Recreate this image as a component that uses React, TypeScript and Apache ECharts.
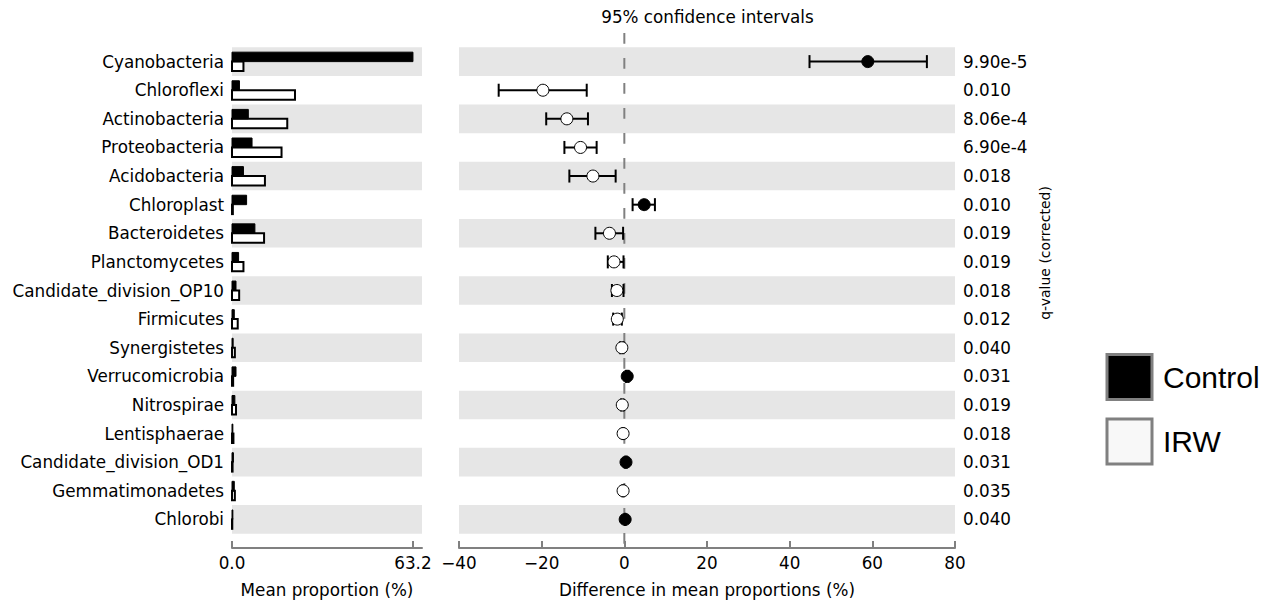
import React, { useEffect, useRef } from 'react';
import * as echarts from 'echarts';

const categories = [
  'Cyanobacteria', 'Chloroflexi', 'Actinobacteria', 'Proteobacteria', 'Acidobacteria',
  'Chloroplast', 'Bacteroidetes', 'Planctomycetes', 'Candidate_division_OP10', 'Firmicutes',
  'Synergistetes', 'Verrucomicrobia', 'Nitrospirae', 'Lentisphaerae', 'Candidate_division_OD1',
  'Gemmatimonadetes', 'Chlorobi',
];
const controlMean = [63.2, 2.6, 5.7, 7.0, 4.0, 5.1, 8.0, 2.3, 1.4, 0.8, 0.4, 1.4, 1.0, 0.3, 0.5, 0.8, 0.3];
const irwMean = [4.0, 22.0, 19.3, 17.3, 11.5, 0.3, 11.2, 4.0, 2.5, 2.0, 1.0, 0.4, 1.4, 0.5, 0.2, 1.0, 0.1];
const diffMean = [58.9, -19.7, -13.9, -10.6, -7.6, 4.8, -3.6, -2.5, -1.8, -1.7, -0.6, 0.7, -0.5, -0.3, 0.4, -0.3, 0.2];
const ciLow = [44.8, -30.4, -18.9, -14.5, -13.3, 2.0, -7.0, -4.0, -3.0, -2.7, -1.0, 0.4, -0.8, -0.5, 0.2, -0.5, 0.1];
const ciHigh = [73.2, -9.1, -8.8, -6.7, -2.1, 7.4, -0.3, -0.2, -0.2, -0.6, -0.2, 1.0, -0.2, -0.1, 0.6, -0.1, 0.3];
const qValues = ['9.90e-5', '0.010', '8.06e-4', '6.90e-4', '0.018', '0.010', '0.019', '0.019', '0.018', '0.012', '0.040', '0.031', '0.019', '0.018', '0.031', '0.035', '0.040'];
const leftTicks = [0, 63.2];
const leftMax = 66.36;
const diffMin = -40;
const diffMax = 80;
const diffStep = 20;
const groups = ['Control', 'IRW'];

const FONT = 'DejaVu Sans';
const FS = 16.8;
const AXIS_GREY = '#808080';
const BAND = '#e6e6e6';

function fmtMinus(v: number): string {
  return v < 0 ? '\u2212' + Math.abs(v) : String(v);
}

export default function App() {
  const ref = useRef<HTMLDivElement>(null);
  useEffect(() => {
    if (!ref.current) return;
    const chart = echarts.init(ref.current, undefined, { renderer: 'svg' });
    const rows = categories.map((_, i) => i);
    const bandRows = rows.filter((i) => i % 2 === 0);

    const bandRender = (params: any, api: any) => {
      const row = api.value(0);
      const cs = params.coordSys;
      const top = api.coord([0, row - 0.5])[1];
      const h = api.size([0, 1])[1];
      return {
        type: 'rect',
        shape: { x: cs.x, y: top, width: cs.width, height: h },
        style: { fill: BAND },
        silent: true,
      };
    };

    const barRender = (upper: boolean) => (params: any, api: any) => {
      const row = api.value(0);
      const v = api.value(1);
      const s = api.coord([0, row]);
      const e = api.coord([v, row]);
      const h = api.size([0, 0.33])[1];
      return {
        type: 'rect',
        shape: { x: s[0], y: upper ? s[1] - h : s[1], width: e[0] - s[0], height: h },
        style: upper
          ? { fill: '#000', stroke: '#000', lineWidth: 1 }
          : { fill: '#fff', stroke: '#000', lineWidth: 2 },
      };
    };

    const errRender = (params: any, api: any) => {
      const row = api.value(0);
      const p1 = api.coord([api.value(1), row]);
      const p2 = api.coord([api.value(2), row]);
      const cap = 6.5;
      const st = { stroke: '#000', lineWidth: 2 };
      return {
        type: 'group',
        children: [
          { type: 'line', shape: { x1: p1[0], y1: p1[1], x2: p2[0], y2: p2[1] }, style: st },
          { type: 'line', shape: { x1: p1[0], y1: p1[1] - cap, x2: p1[0], y2: p1[1] + cap }, style: st },
          { type: 'line', shape: { x1: p2[0], y1: p2[1] - cap, x2: p2[0], y2: p2[1] + cap }, style: st },
        ],
      };
    };

    const zeroRender = (params: any, api: any) => {
      const a = api.coord([api.value(0), -1]);
      const b = api.coord([api.value(0), categories.length]);
      return {
        type: 'line',
        shape: { x1: a[0], y1: a[1], x2: b[0], y2: b[1] },
        style: { stroke: AXIS_GREY, lineWidth: 2, lineDash: [10.7, 14.3] },
      };
    };

    const yCommon = {
      type: 'value',
      min: -1,
      max: categories.length,
      interval: 1,
      inverse: true,
      splitLine: { show: false },
      axisTick: { show: false },
      axisLine: { show: false, onZero: false },
    };

    const option: any = {
      animation: false,
      backgroundColor: '#ffffff',
      textStyle: { fontFamily: FONT },
      grid: [
        { left: 232, width: 190, top: 33, height: 517, containLabel: false },
        { left: 459, width: 496, top: 33, height: 517, containLabel: false },
      ],
      xAxis: [
        {
          type: 'value',
          gridIndex: 0,
          min: 0,
          max: leftMax,
          position: 'bottom',
          splitLine: { show: false },
          axisLine: { show: true, onZero: false, lineStyle: { color: AXIS_GREY, width: 2 } },
          axisTick: { show: true, inside: true, length: 7, customValues: leftTicks, lineStyle: { color: AXIS_GREY, width: 2 } },
          axisLabel: {
            customValues: leftTicks,
            formatter: (v: number) => v.toFixed(1),
            color: '#000',
            fontFamily: FONT,
            fontSize: FS,
            margin: 6,
          },
          name: 'Mean proportion (%)',
          nameLocation: 'middle',
          nameGap: 33,
          nameTextStyle: { color: '#000', fontFamily: FONT, fontSize: FS },
        },
        {
          type: 'value',
          gridIndex: 1,
          min: diffMin,
          max: diffMax,
          interval: diffStep,
          position: 'bottom',
          splitLine: { show: false },
          axisLine: { show: true, onZero: false, lineStyle: { color: AXIS_GREY, width: 2 } },
          axisTick: { show: true, inside: true, length: 7, lineStyle: { color: AXIS_GREY, width: 2 } },
          axisLabel: {
            formatter: (v: number) => fmtMinus(v),
            color: '#000',
            fontFamily: FONT,
            fontSize: FS,
            margin: 6,
          },
          name: 'Difference in mean proportions (%)',
          nameLocation: 'middle',
          nameGap: 33,
          nameTextStyle: { color: '#000', fontFamily: FONT, fontSize: FS },
        },
      ],
      yAxis: [
        {
          ...yCommon,
          gridIndex: 0,
          position: 'left',
          axisLabel: {
            formatter: (v: number) => categories[v] ?? '',
            color: '#000',
            fontFamily: FONT,
            fontSize: FS,
            margin: 8,
          },
        },
        {
          ...yCommon,
          gridIndex: 1,
          position: 'right',
          axisLabel: {
            formatter: (v: number) => qValues[v] ?? '',
            color: '#000',
            fontFamily: FONT,
            fontSize: FS,
            margin: 8,
          },
        },
      ],
      legend: {
        orient: 'vertical',
        left: 1105.5,
        top: 353,
        icon: 'rect',
        itemWidth: 45,
        itemHeight: 45,
        itemGap: 16.5,
        padding: 0,
        selectedMode: false,
        textStyle: {
          fontFamily: 'Liberation Sans',
          fontSize: 30,
          color: '#000',
          lineHeight: 26,
          padding: [19, 0, 0, 6],
        },
        data: [
          { name: groups[0], itemStyle: { color: '#000', borderColor: AXIS_GREY, borderWidth: 3 } },
          { name: groups[1], itemStyle: { color: '#f8f8f8', borderColor: AXIS_GREY, borderWidth: 3 } },
        ],
      },
      graphic: [
        {
          type: 'text',
          x: 707.5,
          y: 16.5,
          style: {
            text: '95% confidence intervals',
            fontFamily: FONT,
            fontSize: FS,
            fill: '#000',
            align: 'center',
            verticalAlign: 'middle',
          },
        },
        {
          type: 'text',
          x: 1045,
          y: 253,
          rotation: Math.PI / 2,
          style: {
            text: 'q-value (corrected)',
            fontFamily: FONT,
            fontSize: 14,
            fill: '#000',
            align: 'center',
            verticalAlign: 'middle',
          },
        },
      ],
      series: [
        {
          type: 'custom',
          xAxisIndex: 0,
          yAxisIndex: 0,
          z: 0,
          silent: true,
          renderItem: bandRender,
          encode: { y: 0 },
          data: bandRows.map((i) => [i]),
        },
        {
          type: 'custom',
          xAxisIndex: 1,
          yAxisIndex: 1,
          z: 0,
          silent: true,
          renderItem: bandRender,
          encode: { y: 0 },
          data: bandRows.map((i) => [i]),
        },
        {
          type: 'custom',
          name: groups[1],
          xAxisIndex: 0,
          yAxisIndex: 0,
          z: 2,
          itemStyle: { color: '#f8f8f8' },
          renderItem: barRender(false),
          encode: { y: 0, x: 1 },
          data: rows.map((i) => [i, irwMean[i]]),
        },
        {
          type: 'custom',
          name: groups[0],
          xAxisIndex: 0,
          yAxisIndex: 0,
          z: 3,
          itemStyle: { color: '#000' },
          renderItem: barRender(true),
          encode: { y: 0, x: 1 },
          data: rows.map((i) => [i, controlMean[i]]),
        },
        {
          type: 'custom',
          xAxisIndex: 1,
          yAxisIndex: 1,
          z: 1,
          silent: true,
          renderItem: zeroRender,
          encode: { x: 0 },
          data: [[0]],
        },
        {
          type: 'custom',
          xAxisIndex: 1,
          yAxisIndex: 1,
          z: 2,
          silent: true,
          renderItem: errRender,
          encode: { y: 0, x: [1, 2] },
          data: rows.map((i) => [i, ciLow[i], ciHigh[i]]),
        },
        {
          type: 'scatter',
          xAxisIndex: 1,
          yAxisIndex: 1,
          z: 4,
          symbol: 'circle',
          symbolSize: 12,
          silent: true,
          data: rows.map((i) => ({
            value: [diffMean[i], i],
            itemStyle: {
              color: diffMean[i] > 0 ? '#000' : '#fff',
              borderColor: '#000',
              borderWidth: 1,
              opacity: 1,
            },
          })),
        },
      ],
    };
    chart.setOption(option);
    return () => chart.dispose();
  }, []);
  return (
    <div
      ref={ref}
      style={{ position: 'fixed', left: 0, top: 0, width: 1266, height: 603, background: '#fff' }}
    />
  );
}
